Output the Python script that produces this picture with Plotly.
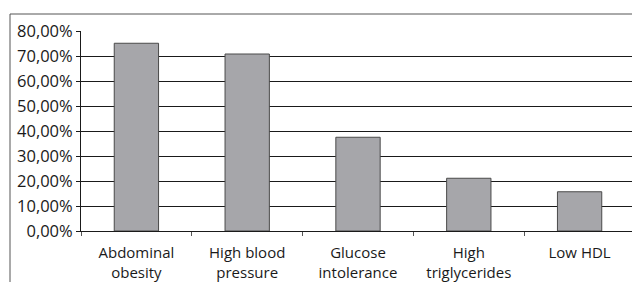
import plotly.graph_objects as go

categories = ["Abdominal<br>obesity", "High blood<br>pressure", "Glucose<br>intolerance",
              "High<br>triglycerides", "Low HDL"]
values = [0.751, 0.708, 0.375, 0.211, 0.157]
y_ticks = [0, 0.1, 0.2, 0.3, 0.4, 0.5, 0.6, 0.7, 0.8]
y_tick_labels = ["0,00%", "10,00%", "20,00%", "30,00%", "40,00%", "50,00%", "60,00%", "70,00%", "80,00%"]

W, H = 632, 282
L, R, T, B = 81, 0, 31, 51
pw, ph = W - L - R, H - T - B

fig = go.Figure(go.Bar(
    x=categories, y=values,
    marker=dict(color="#a6a6aa", line=dict(color="#4a4a4a", width=1)),
    width=0.4,
))

xfont = dict(family="Open Sans, Noto Sans, sans-serif", size=15, color="#1a1a1a")
yfont = dict(family="Open Sans, Noto Sans, sans-serif", size=16.5, color="#1a1a1a")

fig.update_layout(
    width=W, height=H,
    margin=dict(l=L, r=R, t=T, b=B, pad=0, autoexpand=False),
    plot_bgcolor="white", paper_bgcolor="white",
    showlegend=False,
    font=xfont,
    xaxis=dict(
        range=[-0.5, 4.5 - 3 / 111],
        showline=True, linecolor="#1a1a1a", linewidth=1,
        ticks="outside", tickson="boundaries", ticklen=4, tickcolor="#555",
        showgrid=False, tickfont=xfont, automargin=False,
        ticklabelstandoff=8,
    ),
    yaxis=dict(
        range=[0, 0.8],
        tickvals=y_ticks, ticktext=y_tick_labels,
        showline=True, linecolor="#1a1a1a", linewidth=1,
        ticks="outside", ticklen=4, tickcolor="#1a1a1a",
        showgrid=True, gridcolor="#1a1a1a", gridwidth=1,
        zeroline=False, tickfont=yfont, automargin=False,
    ),
    bargap=0.6,
)

# chart frame (top and left edges)
fx = (10 - L) / pw
fy = 1 + (T - 14) / ph
fig.add_shape(type="line", xref="paper", yref="paper", x0=fx, x1=1.02, y0=fy, y1=fy,
              line=dict(color="#555", width=1))
fig.add_shape(type="line", xref="paper", yref="paper", x0=fx, x1=fx, y0=fy, y1=-0.3,
              line=dict(color="#555", width=1))

fig.write_html("out.html", config={"displayModeBar": False},
               post_script="document.body.style.margin='0px';")
